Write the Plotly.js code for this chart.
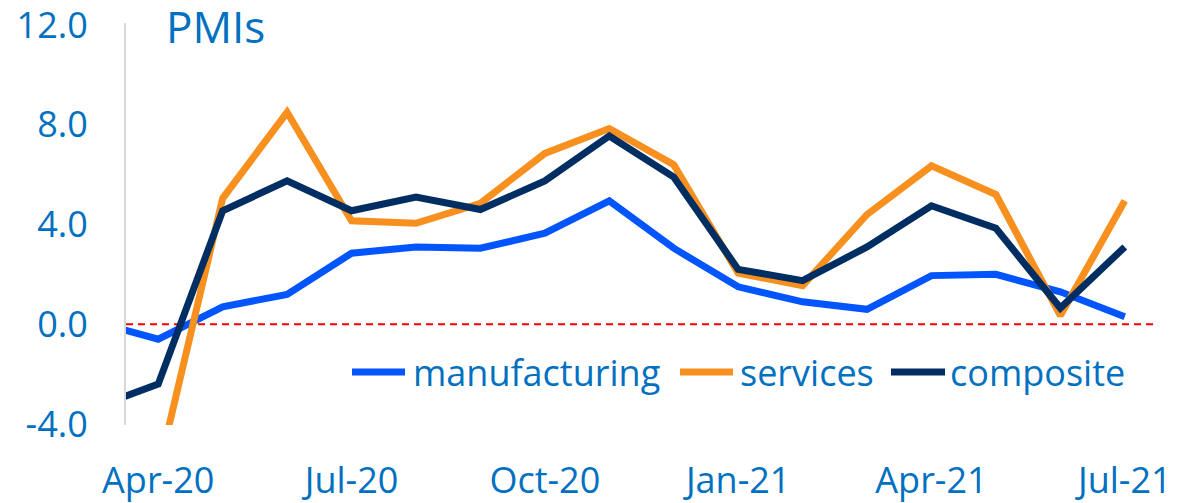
<!DOCTYPE html>
<html>
<head>
<meta charset="utf-8">
<script src="https://cdn.plot.ly/plotly-3.0.1.min.js"></script>
<style>html,body{margin:0;padding:0;background:#fff;}#chart{width:1178px;height:503px;}</style>
</head>
<body>
<div id="chart"></div>
<script>
const months = ['Mar-20','Apr-20','May-20','Jun-20','Jul-20','Aug-20','Sep-20','Oct-20','Nov-20','Dec-20','Jan-21','Feb-21','Mar-21','Apr-21','May-21','Jun-21','Jul-21'];
const manufacturing = [0.1,-0.6,0.7,1.2,2.85,3.1,3.05,3.65,4.95,3.05,1.5,0.9,0.6,1.95,2.0,1.3,0.3];
const services = [-6.5,-5.9,5.05,8.5,4.15,4.05,4.85,6.85,7.85,6.4,2.05,1.55,4.4,6.35,5.2,0.35,4.95];
const composite = [-3.35,-2.4,4.55,5.75,4.55,5.1,4.6,5.75,7.55,5.9,2.2,1.75,3.1,4.75,3.85,0.65,3.1];
const seriesNames = ['manufacturing','services','composite'];
const seriesColors = ['#0055FF','#F7901E','#002D62'];
const tickLabels = ['Apr-20','Jul-20','Oct-20','Jan-21','Apr-21','Jul-21'];
const yTicks = [-4,0,4,8,12];

const textColor = '#0070C0';
const font = 'Open Sans, Noto Sans, sans-serif';
const seriesData = [manufacturing, services, composite];

const traces = seriesData.map((ys, i) => ({
  type: 'scatter', mode: 'lines', x: months, y: ys, name: seriesNames[i],
  line: {color: seriesColors[i], width: 7}, showlegend: false, hoverinfo: 'skip'
}));

// custom legend (paper coords)
const L = 126, R = 1157, T = 23, B = 425;
const W = R - L, H = B - T;
const px = v => (v - L) / W;
const py = v => (B - v) / H;
const legendPos = [[352, 405, 411], [680, 733, 738], [891, 945, 948]];
const legY = 372;
const shapes = [{
  type: 'line', xref: 'paper', x0: 0, x1: 1, yref: 'y', y0: 0, y1: 0,
  line: {color: '#FF0000', width: 2, dash: '7px,5px'}, layer: 'below'
}];
const annotations = [];
seriesNames.forEach((n, i) => {
  const p = legendPos[i];
  shapes.push({type: 'line', xref: 'paper', yref: 'paper', x0: px(p[0]), x1: px(p[1]), y0: py(legY), y1: py(legY),
    line: {color: seriesColors[i], width: 7}});
  annotations.push({xref: 'paper', yref: 'paper', x: px(p[2]), y: py(legY), xanchor: 'left', yanchor: 'middle',
    text: n, showarrow: false, font: {family: font, size: 36, color: textColor}});
});

const layout = {
  width: 1178, height: 503,
  margin: {l: L, r: 1178 - R, t: T, b: 503 - B},
  paper_bgcolor: '#fff', plot_bgcolor: '#fff',
  title: {text: 'PMIs', font: {family: font, size: 44, color: textColor},
    xref: 'paper', x: px(166), xanchor: 'left', yref: 'container', y: 1 - 28 / 503, yanchor: 'middle'},
  xaxis: {type: 'category', range: [0.5, 16.5], tickmode: 'array', tickvals: tickLabels, ticktext: tickLabels,
    showgrid: false, zeroline: false, showline: false, ticks: 'outside', ticklen: 24, tickcolor: 'rgba(0,0,0,0)',
    ticklabeloverflow: 'allow', tickfont: {family: font, size: 36, color: textColor}},
  yaxis: {range: [-4.04, 12.08], tickmode: 'array', tickvals: yTicks, ticktext: yTicks.map(v => v.toFixed(1)),
    showgrid: false, zeroline: false, showline: true, linecolor: '#D9D9D9', linewidth: 2,
    ticks: 'outside', ticklen: 29, tickcolor: 'rgba(0,0,0,0)', ticklabeloverflow: 'allow',
    tickfont: {family: font, size: 36, color: textColor}},
  shapes: shapes, annotations: annotations, showlegend: false
};
Plotly.newPlot('chart', traces, layout, {displayModeBar: false, staticPlot: true});
</script>
</body>
</html>
